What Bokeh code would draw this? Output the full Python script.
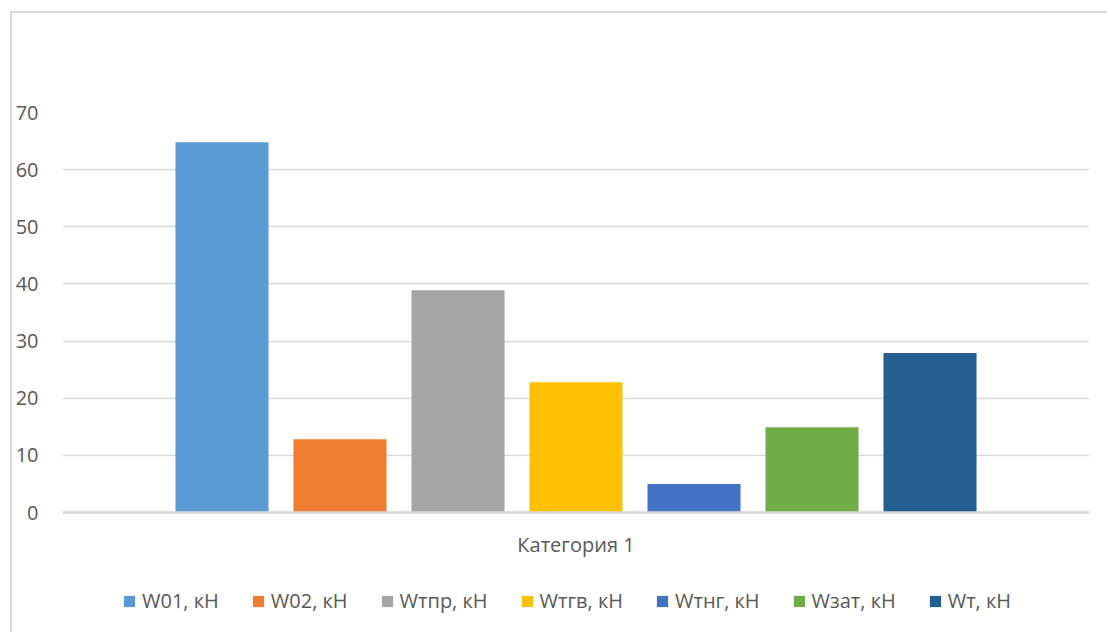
from bokeh.plotting import figure
from bokeh.models import FactorRange, Legend, LegendItem, ColumnDataSource
from bokeh.core.properties import value
from bokeh.transform import dodge
from bokeh.embed import file_html
from bokeh.resources import INLINE

# Data
categories = ["Категория 1"]
series_names = ["W01, кН", "W02, кН", "Wтпр, кН", "Wтгв, кН", "Wтнг, кН", "Wзат, кН", "Wт, кН"]
series_values = [64.8, 12.8, 38.9, 22.8, 5.0, 14.9, 27.9]
series_colors = ["#5B9BD5", "#ED7D31", "#A5A5A5", "#FFC000", "#4472C4", "#70AD47", "#255E91"]
y_ticks = [0, 10, 20, 30, 40, 50, 60, 70]

FONT = "Open Sans"
TEXT_COLOR = "#595959"
GRID_COLOR = "#d9d9d9"

# The value axis spans 0..70 over 400 px; the frame continues below zero
# so the category label and the legend can live inside it.
Y_MAX = 70
VALUE_PX = 400
FRAME_H = 514
y_min = Y_MAX - FRAME_H * Y_MAX / VALUE_PX

p = figure(
    x_range=FactorRange(*categories, range_padding=0),
    y_range=(y_min, Y_MAX),
    frame_width=1027,
    frame_height=FRAME_H,
    x_axis_location=None,
    min_border_left=30,
    min_border_top=99,
    min_border_right=20,
    min_border_bottom=10,
    output_backend="svg",
    toolbar_location=None,
    background_fill_color="white",
    border_fill_color="white",
)
p.outline_line_color = None
p.margin = (11, 0, 0, 10)
p.styles = {"border": "2px solid #d9d9d9"}

source = ColumnDataSource(data=dict(x=categories, **{f"s{i}": [v] for i, v in enumerate(series_values)}))

step = 0.1149
bar_w = 0.0906
items = []
n = len(series_names)
for i, (name, color) in enumerate(zip(series_names, series_colors)):
    off = (i - (n - 1) / 2) * step
    r = p.vbar(x=dodge("x", off, range=p.x_range), top=f"s{i}", width=bar_w,
               source=source, fill_color=color, line_color=None)
    items.append(LegendItem(label=name, renderers=[r]))

# Baseline, a touch heavier than the grid
p.hspan(y=[0], line_color=GRID_COLOR, line_width=2.5)

# Category label under the baseline
p.text(x=categories, y=[0] * len(categories), text=categories,
       y_offset=32, text_align="center", text_baseline="middle",
       text_font=value(FONT), text_font_size="20px", text_color=TEXT_COLOR)

# Value axis
p.yaxis.ticker = y_ticks
p.yaxis.axis_line_color = None
p.yaxis.major_tick_line_color = None
p.yaxis.minor_tick_line_color = None
p.yaxis.major_label_standoff = 18
p.yaxis.major_label_text_font = FONT
p.yaxis.major_label_text_font_size = "20px"
p.yaxis.major_label_text_color = TEXT_COLOR

p.xgrid.grid_line_color = None
p.ygrid.ticker = y_ticks
p.ygrid.grid_line_color = GRID_COLOR
p.ygrid.grid_line_width = 1.5

legend = Legend(
    items=items,
    orientation="horizontal",
    location=(60, 12),
    label_text_font=FONT,
    label_text_font_size="20px",
    label_text_color=TEXT_COLOR,
    label_height=20,
    label_standoff=6,
    spacing=32,
    glyph_width=14,
    glyph_height=14,
    padding=0,
    margin=0,
    border_line_color=None,
    background_fill_alpha=0,
)
p.add_layout(legend, "center")

open("out.html", "w").write(file_html(p, INLINE))
